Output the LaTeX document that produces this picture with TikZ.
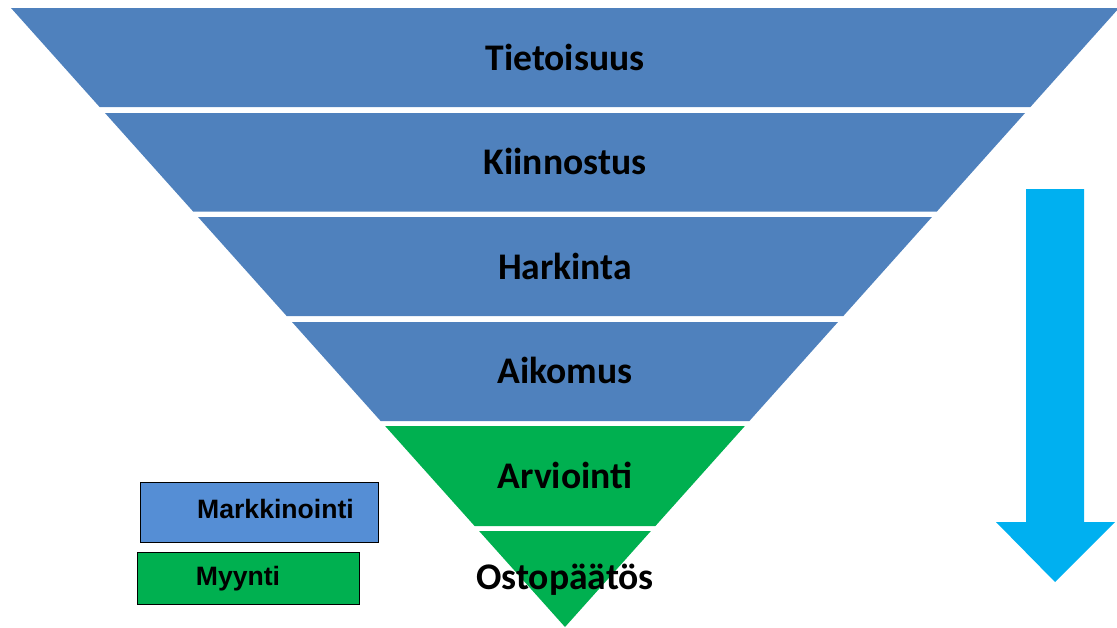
\documentclass[tikz,border=0pt]{standalone}
\usepackage{fontspec}
\setmainfont{Carlito}
\newfontfamily\legendfont{Liberation Sans}
\definecolor{funnelblue}{HTML}{4F81BD}
\definecolor{legendblue}{HTML}{558ED5}
\definecolor{salesgreen}{HTML}{00B050}
\definecolor{arrowcyan}{HTML}{00B0F0}
\tikzset{
  band/.style={draw=none},
  bandlabel/.style={font=\fontsize{37.6}{42}\selectfont\bfseries, text=black, inner sep=0pt},
  legendbox/.style={draw=black, line width=0.9pt, inner sep=0pt},
  legendlabel/.style={font=\legendfont\fontsize{26.6}{30}\selectfont\bfseries, text=black, inner sep=0pt}
}
\newcommand{\fband}[3]{% top, bottom, colour
  \fill[#3] ({565-(627-#1)*0.895},#1) -- ({565+(627-#1)*0.895},#1) -- ({565+(627-#2)*0.895},#2) -- ({565-(627-#2)*0.895},#2) -- cycle;
}
\begin{document}
\begin{tikzpicture}[x=1pt,y=-1pt]
\useasboundingbox (0,0) rectangle (1117,627);
\begin{scope}
\clip (0,0) rectangle (1117,627);
\fband{8}{107}{funnelblue}
\fband{113}{211.5}{funnelblue}
\fband{217}{316}{funnelblue}
\fband{322}{421}{funnelblue}
\fband{426}{526}{salesgreen}
\fband{531}{627}{salesgreen}
\end{scope}
\node[bandlabel] (t1) at (565,57) {Tietoisuus};
\node[bandlabel] (t2) at (565,161) {Kiinnostus};
\node[bandlabel] (t3) at (565,266) {Harkinta};
\node[bandlabel] (t4) at (565,370) {Aikomus};
\node[bandlabel] (t5) at (565,475) {Arviointi};
\node[bandlabel] (t6) at (565,580) {Ostopäätös};
% legend
\draw[legendbox, fill=legendblue] (140,482) rectangle (378,542);
\node[legendlabel] (lm) at (275.5,509) {Markkinointi};
\draw[legendbox, fill=salesgreen] (137,552) rectangle (359,604);
\node[legendlabel] (ly) at (238,579) {Myynti};
% arrow
\fill[arrowcyan] (1026,189) -- (1084,189) -- (1084,522) -- (1115,522) -- (1055,582) -- (996,522) -- (1026,522) -- cycle;
\end{tikzpicture}
\end{document}
